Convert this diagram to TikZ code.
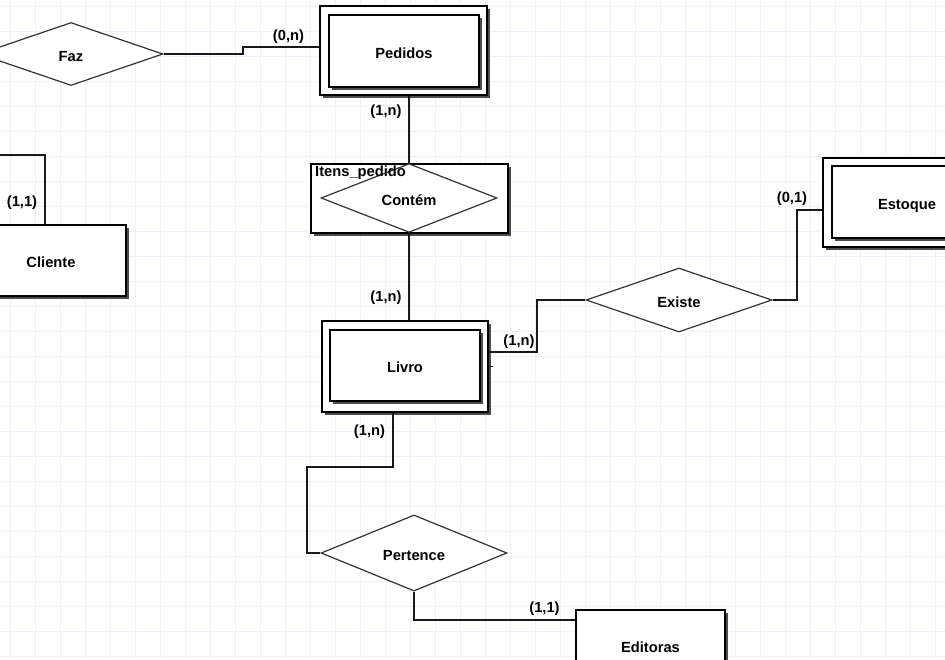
\documentclass[tikz,border=0pt]{standalone}
\usepackage{fontspec}
\setmainfont{Liberation Sans}
\usetikzlibrary{shapes.geometric,shadows}
\definecolor{gridc}{RGB}{236,242,251}
\begin{document}
\begin{tikzpicture}[x=1pt,y=-1pt,
  every node/.style={font=\fontsize{14.7}{16}\selectfont\bfseries, inner sep=0pt},
  conn/.style={draw=black!90, line width=1.2pt},
  shad/.style={drop shadow={shadow xshift=2.5pt, shadow yshift=-2.5pt, fill=black!70, opacity=1}},
  ent/.style={rectangle, draw=black, line width=1.2pt, fill=white, shad, text height=14pt, text depth=0pt},
  rel/.style={diamond, draw=black!80, line width=1.2pt, fill=white, text height=14pt, text depth=0pt}]
\useasboundingbox (0,0) rectangle (945,659);
\clip (0,0) rectangle (945,659);
\fill[white] (0,0) rectangle (945,659);
\foreach \x in {10,35,...,935} \draw[gridc, line width=1pt] (\x,0) -- (\x,659);
\foreach \y in {6,31,...,656} \draw[gridc, line width=1pt] (0,\y) -- (945,\y);

% entities
\node[ent, minimum width=167pt, minimum height=89pt] (pedO) at (403.5,50.5) {};
\node[ent, minimum width=150pt, minimum height=72pt] (ped) at (404,51) {Pedidos};
\node[ent, minimum width=197pt, minimum height=69pt] (itens) at (409.5,198.5) {};
\node[rel, minimum width=176pt, minimum height=50pt] (contem) at (409,198) {Contém};
\node[anchor=west] (itlbl) at (315,173) {Itens\_pedido};
\node[ent, minimum width=166pt, minimum height=91pt] (livO) at (405,366.5) {};
\node[ent, minimum width=150pt, minimum height=71pt] (liv) at (405,365.5) {Livro};
\node[rel, minimum width=186pt, minimum height=64pt] (existe) at (679,300) {Existe};
\node[ent, minimum width=167pt, minimum height=89pt] (estO) at (906.5,202.5) {};
\node[ent, minimum width=150pt, minimum height=72pt] (est) at (907,202) {Estoque};
\node[ent, minimum width=150pt, minimum height=71pt] (cli) at (51,260.5) {Cliente};
\node[rel, minimum width=186pt, minimum height=64pt] (pert) at (414,553) {Pertence};
\node[ent, minimum width=149pt, minimum height=71pt] (edi) at (650.5,645.5) {Editoras};
\node[rel, minimum width=184pt, minimum height=63pt] (faz) at (71,54) {Faz};
\coordinate (clend) at (-10,155);

% connectors
\draw[conn] (faz.east) -- (243,54) -- (243,47) -- (pedO.west |- 0,47);
\draw[conn] (pedO.south -| contem.north) -- (contem.north);
\draw[conn] (contem.south) -- (contem.south |- livO.north);
\draw[conn] (livO.east |- 0,352) -- (537,352) -- (537,300) -- (existe.west);
\draw[conn] (livO.east) -- ++(4,0);
\draw[conn] (existe.east) -- (797,300) -- (797,210) -- (estO.west |- 0,210);
\draw[conn] (cli.north -| 45,0) -- (45,155) -- (clend);
\draw[conn] (livO.south -| 393,0) -- (393,467) -- (307,467) -- (307,553) -- (pert.west);
\draw[conn] (pert.south) -- (414,620) -- (edi.west |- 0,620);

% cardinalities
\node (l1) at (288.5,37) {(0,n)};
\node (l2) at (386,112) {(1,n)};
\node (l3) at (386,298) {(1,n)};
\node (l4) at (519,342) {(1,n)};
\node (l5) at (792,199) {(0,1)};
\node (l6) at (22,203) {(1,1)};
\node (l7) at (369.5,432) {(1,n)};
\node (l8) at (544.5,609) {(1,1)};
\end{tikzpicture}
\end{document}
